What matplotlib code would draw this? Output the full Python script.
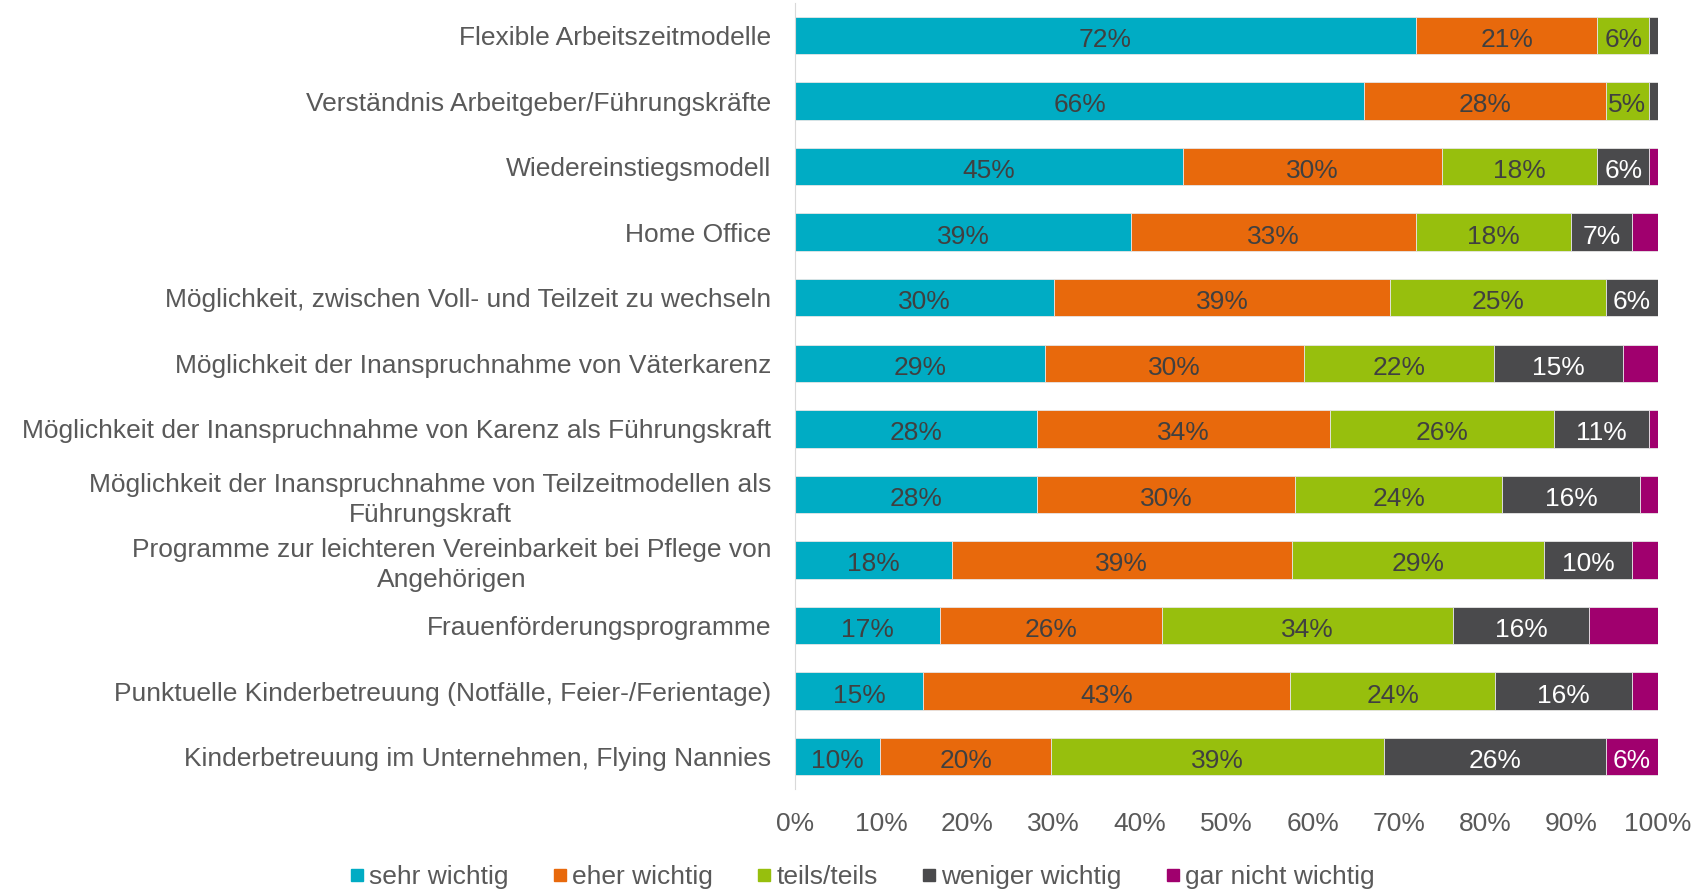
import matplotlib.pyplot as plt
import numpy as np

plt.rcParams['font.family'] = ['Liberation Sans', 'DejaVu Sans']

categories = [
    "Flexible Arbeitszeitmodelle",
    "Verständnis Arbeitgeber/Führungskräfte",
    "Wiedereinstiegsmodell",
    "Home Office",
    "Möglichkeit, zwischen Voll- und Teilzeit zu wechseln",
    "Möglichkeit der Inanspruchnahme von Väterkarenz",
    "Möglichkeit der Inanspruchnahme von Karenz als Führungskraft",
    "Möglichkeit der Inanspruchnahme von Teilzeitmodellen als\nFührungskraft",
    "Programme zur leichteren Vereinbarkeit bei Pflege von\nAngehörigen",
    "Frauenförderungsprogramme",
    "Punktuelle Kinderbetreuung (Notfälle, Feier-/Ferientage)",
    "Kinderbetreuung im Unternehmen, Flying Nannies",
]

series = ["sehr wichtig", "eher wichtig", "teils/teils", "weniger wichtig", "gar nicht wichtig"]

sehr_wichtig = [72, 66, 45, 39, 30, 29, 28, 28, 18, 17, 15, 10]
eher_wichtig = [21, 28, 30, 33, 39, 30, 34, 30, 39, 26, 43, 20]
teils_teils = [6, 5, 18, 18, 25, 22, 26, 24, 29, 34, 24, 39]
weniger_wichtig = [1, 1, 6, 7, 6, 15, 11, 16, 10, 16, 16, 26]
gar_nicht = [0, 0, 1, 3, 0, 4, 1, 2, 3, 8, 3, 6]

# segments that carry no label in the original (row, series)
unlabeled = [(9, 4)]

colors = ["#00ACC4", "#E8690C", "#97BF0D", "#4A4A4C", "#A0006E"]
text_colors = ["#404040", "#404040", "#404040", "white", "white"]

data = np.array([sehr_wichtig, eher_wichtig, teils_teils, weniger_wichtig, gar_nicht], dtype=float)
data = data / data.sum(axis=0) * 100

fig = plt.figure(figsize=(16.95, 8.93), dpi=100)
ax = fig.add_axes([0.469, 0.116, 0.509, 0.881])

y = np.arange(len(categories))
left = np.zeros(len(categories))
for i, name in enumerate(series):
    vals = data[i]
    ax.barh(y, vals, left=left, height=0.57, color=colors[i],
            edgecolor="#e6e6e6", linewidth=0.6, label=name)
    for j, v in enumerate(vals):
        if v >= 4.5 and (j, i) not in unlabeled:
            ax.text(left[j] + v / 2, y[j] + 0.03, "%d%%" % round(v), ha="center",
                    va="center_baseline", fontsize=19, color=text_colors[i])
    left = left + vals

ax.set_xlim(0, 100)
ax.set_ylim(len(categories) - 0.5, -0.5)
ax.set_yticks(y)
ax.set_yticklabels(categories, fontsize=19, color="#595959", ha="right",
                   multialignment="center", linespacing=1.3)
ax.set_xticks(np.arange(0, 101, 10))
ax.set_xticklabels(["%d%%" % t for t in range(0, 101, 10)], fontsize=19, color="#595959")
ax.tick_params(axis="both", length=0)
ax.tick_params(axis="y", pad=17)
ax.tick_params(axis="x", pad=16)

for s in ["top", "right", "bottom"]:
    ax.spines[s].set_visible(False)
ax.spines["left"].set_color("#d9d9d9")

handles = [plt.Line2D([], [], marker="s", linestyle="", markersize=9, color=c) for c in colors]
fig.legend(handles, series, loc="center", bbox_to_anchor=(0.505, 0.018), ncol=5,
           frameon=False, fontsize=19, labelcolor="#595959", handletextpad=-0.3,
           columnspacing=1.2, handlelength=1.5)

fig.savefig("out.png", dpi=100)
